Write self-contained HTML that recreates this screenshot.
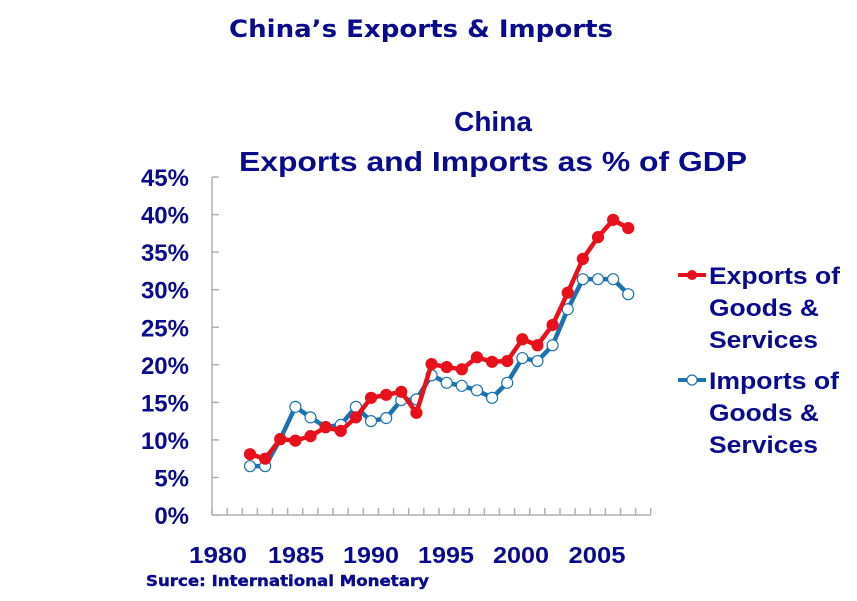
<!DOCTYPE html>
<html><head><meta charset="utf-8"><style>
body{margin:0;background:#fff;}
svg text{font-weight:bold;fill:#0a0a8c;}
</style></head><body>
<svg width="857" height="596" viewBox="0 0 857 596" xmlns="http://www.w3.org/2000/svg">
<text x="421" y="37" text-anchor="middle" font-family="DejaVu Sans, sans-serif" font-size="24" textLength="384" lengthAdjust="spacingAndGlyphs">China’s Exports &amp; Imports</text>
<text x="493" y="131" text-anchor="middle" font-family="Liberation Sans, sans-serif" font-size="28">China</text>
<text x="493" y="171" text-anchor="middle" font-family="Liberation Sans, sans-serif" font-size="28" textLength="508" lengthAdjust="spacingAndGlyphs">Exports and Imports as % of GDP</text>
<g stroke="#b0b0b0" stroke-width="1.5" fill="none">
<line x1="212" y1="177" x2="212" y2="515"/>
<line x1="212" y1="515" x2="651" y2="515"/>
<g id="yt"></g>
</g>
<g font-family="Liberation Sans, sans-serif" font-size="24" text-anchor="end" id="yl"></g>
<g font-family="Liberation Sans, sans-serif" font-size="23" text-anchor="middle">
<text x="218" y="563" textLength="58" lengthAdjust="spacingAndGlyphs">1980</text><text x="296" y="563" textLength="56" lengthAdjust="spacingAndGlyphs">1985</text><text x="371" y="563" textLength="56" lengthAdjust="spacingAndGlyphs">1990</text><text x="446" y="563" textLength="56" lengthAdjust="spacingAndGlyphs">1995</text><text x="521" y="563" textLength="56" lengthAdjust="spacingAndGlyphs">2000</text><text x="597" y="563" textLength="57" lengthAdjust="spacingAndGlyphs">2005</text>
</g>
<text x="146" y="586" font-family="DejaVu Sans, sans-serif" font-size="15" textLength="283" lengthAdjust="spacingAndGlyphs" stroke="#0a0a8c" stroke-width="0.4">Surce: International Monetary</text>
<g id="series"></g>
<line x1="678" y1="275" x2="706" y2="275" stroke="#e8101a" stroke-width="4"/><circle cx="692" cy="275" r="5" fill="#e8101a"/>
<line x1="678" y1="380" x2="706" y2="380" stroke="#1a72b0" stroke-width="4"/><circle cx="692" cy="380" r="5" fill="#fff" stroke="#1a72b0" stroke-width="1.2"/>
<g font-family="Liberation Sans, sans-serif" font-size="24">
<text x="709" y="284" textLength="131" lengthAdjust="spacingAndGlyphs">Exports of</text><text x="709" y="316" textLength="110" lengthAdjust="spacingAndGlyphs">Goods &amp;</text><text x="709" y="348" textLength="109" lengthAdjust="spacingAndGlyphs">Services</text>
<text x="709" y="389" textLength="130" lengthAdjust="spacingAndGlyphs">Imports of</text><text x="709" y="421" textLength="110" lengthAdjust="spacingAndGlyphs">Goods &amp;</text><text x="709" y="453" textLength="109" lengthAdjust="spacingAndGlyphs">Services</text>
</g>
</svg>
<script>
var ns="http://www.w3.org/2000/svg";
function el(p,t,a){var e=document.createElementNS(ns,t);for(var k in a)e.setAttribute(k,a[k]);p.appendChild(e);return e;}
var yt=document.getElementById('yt'),yl=document.getElementById('yl');
function Y(v){return 515-v*7.51;}
for(var i=0;i<=9;i++){var y=Y(i*5);el(yt,'line',{x1:212,y1:y,x2:219,y2:y});var t=el(yl,'text',{x:189,y:y+9});t.textContent=(i*5)+'%';}
for(var k=0;k<=29;k++){var x=212+k*15.13;el(yt,'line',{x1:x,y1:515,x2:x,y2:508});}
var ex=[8.1,7.5,10.1,9.9,10.5,11.7,11.2,13,15.6,16,16.4,13.6,20.1,19.7,19.4,21,20.4,20.5,23.4,22.6,25.3,29.6,34.1,37,39.3,38.2];
var im=[6.5,6.5,10.1,14.4,13,11.7,12,14.4,12.5,12.9,15.3,15.4,18.6,17.6,17.2,16.6,15.6,17.6,20.9,20.5,22.6,27.4,31.4,31.4,31.4,29.4];
var s=document.getElementById('series');
function X(i){return 250+i*15.13;}
function draw(d,c,fill){var p=d.map(function(v,i){return X(i)+','+Y(v)}).join(' ');
el(s,'polyline',{points:p,fill:'none',stroke:c,'stroke-width':4.5,'stroke-linejoin':'round'});
d.forEach(function(v,i){el(s,'circle',{cx:X(i),cy:Y(v),r:5.5,fill:fill,stroke:c,'stroke-width':1.2});});}
draw(im,'#1a72b0','#fff');
draw(ex,'#e8101a','#e8101a');
</script>
</body></html>
